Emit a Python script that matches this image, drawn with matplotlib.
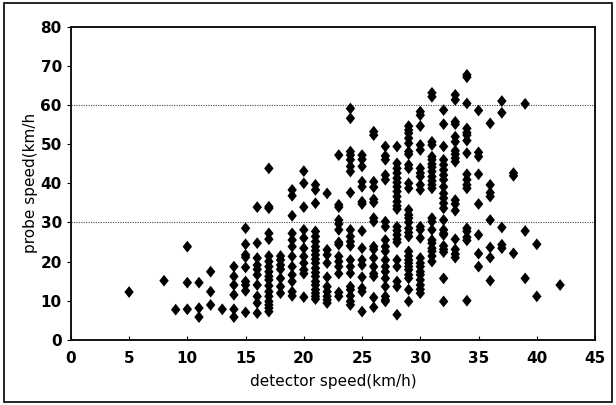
import matplotlib
matplotlib.use("Agg")
import matplotlib.pyplot as plt
from matplotlib.patches import Rectangle

# detector speed (km/h) -> probe speeds (km/h) observed at that detector speed
det_speeds = [5, 8, 9, 10, 11, 12, 13, 14, 15, 16, 17, 18, 19, 20, 21, 22, 23, 24,
              25, 26, 27, 28, 29, 30, 31, 32, 33, 34, 35, 36, 37, 38, 39, 40, 42]
probe_speeds = [
    [12.2],
    [15.1],
    [7.7],
    [23.8, 14.6, 7.8],
    [14.6, 8.1, 5.8],
    [17.4, 12.3, 8.9],
    [7.8],
    [18.7, 16.2, 14.0, 11.5, 7.8, 5.8],
    [28.5, 24.4, 21.7, 21.1, 18.5, 14.9, 14.0, 12.5, 7.0],
    [33.9, 24.7, 20.9, 19.1, 18.0, 16.6, 14.0, 11.1, 9.4, 6.8],
    [43.8, 34.0, 33.6, 27.2, 25.7, 21.4, 20.0, 18.7, 17.4, 16.2, 15.3, 13.8, 12.3,
     11.1, 9.8, 8.9, 8.1, 7.2],
    [21.4, 20.4, 19.1, 18.0, 15.7, 13.6, 11.9],
    [38.3, 36.8, 31.7, 27.2, 25.5, 23.8, 21.3, 18.7, 16.6, 14.9, 12.3, 11.2],
    [43.1, 40.0, 33.9, 28.1, 26.0, 23.4, 21.3, 19.6, 17.9, 16.9, 10.9],
    [39.6, 38.3, 34.9, 27.7, 26.4, 25.1, 23.8, 22.8, 21.7, 20.6, 19.6, 18.3, 17.2,
     16.2, 14.9, 14.0, 12.8, 11.9, 11.1, 10.4],
    [37.4, 23.0, 21.7, 19.6, 16.0, 13.6, 12.3, 11.1, 10.2, 9.4],
    [47.2, 34.5, 33.9, 30.6, 29.6, 28.1, 24.9, 24.3, 21.3, 20.0, 18.7, 16.9, 12.1, 11.1],
    [59.1, 56.6, 48.1, 47.2, 46.0, 44.3, 43.0, 37.6, 28.1, 26.4, 25.1, 24.0, 20.4,
     18.7, 17.0, 13.6, 12.8, 11.2, 9.8, 8.9],
    [47.2, 46.1, 44.3, 40.4, 39.1, 35.3, 34.7, 27.8, 23.4, 20.4, 19.1, 16.0, 13.2,
     12.3, 7.2],
    [53.2, 52.3, 40.4, 39.0, 35.9, 35.1, 31.1, 30.2, 23.8, 23.1, 20.9, 18.7, 16.9,
     16.2, 10.8, 8.3],
    [49.4, 47.0, 46.0, 42.1, 40.9, 30.2, 28.9, 25.5, 23.8, 22.6, 20.4, 18.7, 17.4,
     15.7, 13.6, 11.1, 10.2, 9.8],
    [49.4, 45.1, 43.8, 42.6, 41.3, 40.2, 39.1, 37.9, 36.6, 35.3, 34.2, 33.4, 28.9,
     27.9, 26.8, 25.7, 24.9, 20.4, 18.7, 14.9, 13.6, 6.4],
    [54.6, 53.6, 52.8, 51.5, 50.2, 48.1, 47.4, 44.7, 43.8, 40.0, 38.7, 33.2, 31.9,
     31.1, 30.0, 28.5, 27.4, 26.4, 22.6, 21.4, 20.4, 19.6, 18.7, 17.9, 16.6, 15.7,
     12.8, 9.8],
    [58.3, 57.4, 54.6, 49.8, 48.5, 43.8, 42.6, 41.7, 39.6, 38.3, 28.9, 28.1, 26.0,
     20.9, 19.6, 18.7, 17.4, 16.6, 15.3, 14.0, 12.9, 11.9],
    [63.1, 62.1, 50.6, 49.8, 46.8, 46.0, 44.9, 44.1, 43.0, 41.7, 40.6, 39.6, 38.7,
     31.1, 30.2, 28.1, 25.5, 24.7, 23.4, 22.6, 21.4, 20.0],
    [58.7, 55.1, 49.4, 46.0, 44.7, 43.4, 42.1, 40.9, 39.1, 37.4, 36.2, 34.9, 33.6,
     30.6, 28.1, 27.2, 26.8, 24.0, 23.1, 22.4, 15.7, 9.8],
    [62.6, 61.3, 55.7, 55.1, 51.9, 50.6, 48.3, 47.4, 46.4, 45.5, 35.7, 34.7, 33.0,
     25.7, 23.1, 21.9, 21.0],
    [67.7, 67.1, 60.4, 54.0, 52.9, 52.3, 50.9, 47.7, 42.3, 40.9, 39.6, 38.7, 28.5,
     27.7, 26.2, 25.4, 10.0],
    [58.6, 47.9, 46.8, 42.3, 34.7, 26.8, 22.0, 18.7],
    [55.3, 39.6, 37.6, 36.6, 30.6, 23.6, 21.0, 15.1],
    [61.0, 58.0, 28.7, 24.3, 23.4],
    [42.6, 41.9, 22.1],
    [60.3, 27.8, 15.7],
    [24.4, 11.1],
    [14.0],
]

x_ticks = list(range(0, 50, 5))
y_ticks = list(range(0, 90, 10))

xs, ys = [], []
for d, col in zip(det_speeds, probe_speeds):
    for p in col:
        xs.append(d)
        ys.append(p)

plt.rcParams['font.family'] = ['Liberation Sans Narrow', 'DejaVu Sans']

# slightly tall diamond, like the old spreadsheet marker
diamond = [(0, 1), (0.8, 0), (0, -1), (-0.8, 0), (0, 1)]

fig = plt.figure(figsize=(6.16, 4.05), dpi=100)
ax = fig.add_axes([0.115, 0.161, 0.851, 0.773])

for g in (30, 60):
    ax.axhline(g, color='#444444', lw=0.8, ls=(0, (1, 1.2)), zorder=1)

ax.scatter(xs, ys, marker=diamond, s=72, color='black', edgecolors='none', zorder=3)

ax.set_xlim(0, 45)
ax.set_ylim(0, 80)
ax.set_xticks(x_ticks)
ax.set_yticks(y_ticks)
ax.tick_params(axis='x', direction='in', length=3, labelsize=11, pad=8)
ax.tick_params(axis='y', direction='out', length=3, labelsize=11)
for lab in ax.get_xticklabels() + ax.get_yticklabels():
    lab.set_fontweight('bold')
for s in ax.spines.values():
    s.set_linewidth(1.3)

ax.set_xlabel('detector speed(km/h)', fontsize=11, labelpad=6)
ax.set_ylabel('probe speed(km/h', fontsize=11, labelpad=2)

# outer frame around the whole figure
fig.patches.append(Rectangle((0.006, 0.008), 0.988, 0.985, transform=fig.transFigure,
                             fill=False, edgecolor='black', lw=1.2))

fig.savefig('out.png', dpi=100)
